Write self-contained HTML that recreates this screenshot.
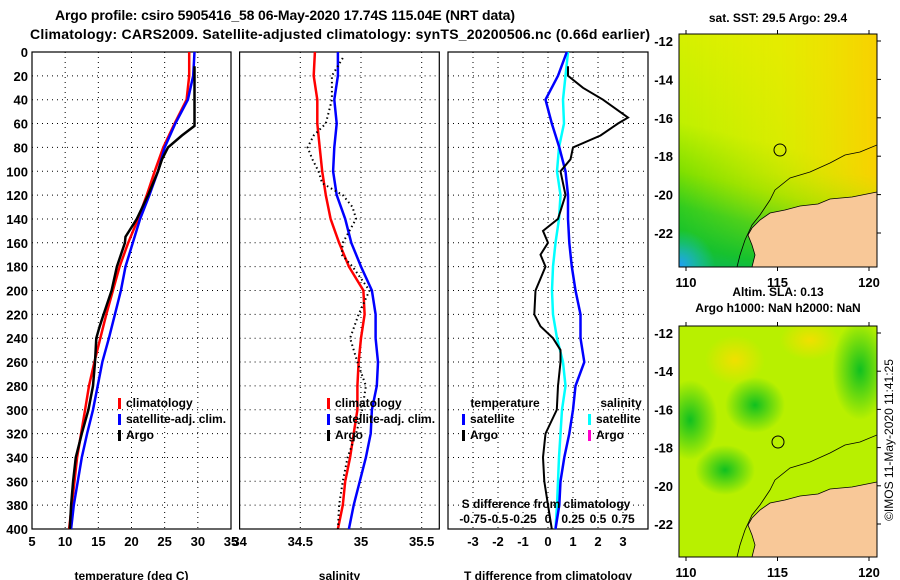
<!DOCTYPE html>
<html><head><meta charset="utf-8"><style>
html,body{margin:0;padding:0;background:#fff;}
svg{display:block;font-family:"Liberation Sans",sans-serif;font-weight:bold;}
</style></head><body>
<svg id="chart" width="900" height="580" viewBox="0 0 900 580">
<defs>
<clipPath id="clipTop"><rect x="679" y="34" width="198" height="233"/></clipPath>
<clipPath id="clipBot"><rect x="679" y="326" width="198" height="231"/></clipPath>
<linearGradient id="sstBase" x1="0.2" y1="0" x2="0" y2="1">
<stop offset="0" stop-color="#d8f000"/><stop offset="0.4" stop-color="#c0f000"/><stop offset="0.6" stop-color="#80e000"/><stop offset="0.75" stop-color="#30cc20"/><stop offset="0.9" stop-color="#10c030"/><stop offset="1" stop-color="#10b860"/>
</linearGradient>
<linearGradient id="sstRight" x1="0" y1="0" x2="1" y2="0">
<stop offset="0" stop-color="#f0f000" stop-opacity="0"/><stop offset="0.5" stop-color="#f0e800" stop-opacity="0.5"/><stop offset="1" stop-color="#f8d000" stop-opacity="1"/>
</linearGradient>
<linearGradient id="sstFade" x1="0" y1="0" x2="0" y2="1">
<stop offset="0" stop-color="#fff" stop-opacity="1"/><stop offset="0.6" stop-color="#fff" stop-opacity="1"/><stop offset="1" stop-color="#fff" stop-opacity="0"/>
</linearGradient>
<mask id="rightMask"><rect x="679" y="34" width="198" height="233" fill="url(#sstFade)"/></mask>
<radialGradient id="blob" cx="0.5" cy="0.5" r="0.5"><stop offset="0" stop-color="#10c020"/><stop offset="1" stop-color="#10c020" stop-opacity="0"/></radialGradient>
<radialGradient id="cyanBlob" cx="0.5" cy="0.5" r="0.5"><stop offset="0" stop-color="#20a0f0"/><stop offset="1" stop-color="#20c8d0" stop-opacity="0"/></radialGradient>
<radialGradient id="yblob" cx="0.5" cy="0.5" r="0.5"><stop offset="0" stop-color="#f0e000"/><stop offset="1" stop-color="#f0e000" stop-opacity="0"/></radialGradient>
</defs>
<g id="titles">
<text x="285" y="20" font-size="14" text-anchor="middle" textLength="460">Argo profile: csiro 5905416_58 06-May-2020 17.74S 115.04E (NRT data)</text>
<text x="340" y="39" font-size="14" text-anchor="middle" textLength="620">Climatology: CARS2009. Satellite-adjusted climatology: synTS_20200506.nc (0.66d earlier)</text>
</g>
<g id="panels"></g>
<g id="maps">
<text x="778" y="22" font-size="12" text-anchor="middle">sat. SST: 29.5 Argo: 29.4</text>
<g>
<g clip-path="url(#clipTop)">
<rect x="679" y="34" width="198" height="233" fill="url(#sstBase)"/>
<rect x="679" y="34" width="198" height="233" fill="url(#sstRight)" mask="url(#rightMask)"/>
<ellipse cx="680" cy="265" rx="35" ry="35" fill="url(#cyanBlob)"/>
<polygon points="877,192 852,197 830,199 818,204 800,206 785,210 770,213 760,220 752,228 748,235 752,245 755,255 752,267 877,267" fill="#f8c898" stroke="#000" stroke-width="0.8"/>
<polyline points="877,145 860,152 845,155 830,163 810,172 790,178 775,190 770,200 760,215 752,225 745,240 740,255 737,267" fill="none" stroke="#000" stroke-width="0.8"/>
</g>
<circle cx="780" cy="150" r="6" fill="none" stroke="#000" stroke-width="1"/>
<rect x="679" y="34" width="198" height="233" fill="none" stroke="#000"/>
</g>
<text x="778" y="296" font-size="12" text-anchor="middle">Altim. SLA: 0.13</text>
<text x="778" y="312" font-size="12" text-anchor="middle">Argo h1000: NaN h2000: NaN</text>
<g>
<g clip-path="url(#clipBot)">
<rect x="679" y="326" width="198" height="231" fill="#b8f000"/>
<ellipse cx="755" cy="405" rx="30" ry="28" fill="url(#blob)"/>
<ellipse cx="690" cy="420" rx="28" ry="40" fill="url(#blob)"/>
<ellipse cx="725" cy="470" rx="30" ry="25" fill="url(#blob)"/>
<ellipse cx="860" cy="370" rx="28" ry="50" fill="url(#blob)"/>
<ellipse cx="735" cy="360" rx="30" ry="25" fill="url(#yblob)"/>
<ellipse cx="810" cy="340" rx="30" ry="20" fill="url(#yblob)"/>
<polygon points="877,482 852,487 830,489 818,494 800,496 785,500 770,503 760,510 752,518 748,525 752,535 755,545 752,557 877,557" fill="#f8c898" stroke="#000" stroke-width="0.8"/>
<polyline points="877,435 860,442 845,445 830,453 810,462 790,468 775,480 770,490 760,505 752,515 745,530 740,545 737,557" fill="none" stroke="#000" stroke-width="0.8"/>
</g>
<circle cx="778" cy="442" r="6" fill="none" stroke="#000" stroke-width="1"/>
<rect x="679" y="326" width="198" height="231" fill="none" stroke="#000"/>
</g>
<text transform="translate(893,440) rotate(-90)" font-size="12" font-weight="normal" text-anchor="middle">©IMOS 11-May-2020 11:41:25</text>
</g>
</svg>
<script>
const depths=[0,20,40,60,80,100,120,140,160,180,200,220,240,260,280,300,320,340,360,380,400];
const tempClim=[28.7,28.7,28.3,26.5,24.8,23.5,22.3,21.0,19.5,18.2,17.2,16.2,15.3,14.4,13.6,13.0,12.4,11.8,11.4,11.0,10.6];
const tempSat=[29.5,29.3,28.5,26.6,25.0,24.0,22.7,21.3,20.2,19.1,18.4,17.5,16.6,15.6,14.9,14.2,13.3,12.5,11.9,11.3,10.9];
const argoDepths=[12,20,40,62,70,80,90,100,120,140,155,160,180,200,220,230,240,260,280,300,320,340,360,380,400];
const tempArgo=[29.5,29.5,29.5,29.5,27.6,25.5,24.6,24.0,22.5,20.8,19.1,19.0,17.8,17.0,15.8,15.2,14.7,14.5,14.2,13.5,12.5,11.6,11.2,10.9,10.7];
const salClim=[34.62,34.61,34.64,34.64,34.66,34.68,34.71,34.75,34.82,34.90,35.02,35.03,35.0,34.98,34.97,34.97,34.94,34.91,34.87,34.85,34.81];
const salSat=[34.81,34.81,34.78,34.80,34.78,34.77,34.80,34.87,34.92,35.0,35.09,35.12,35.12,35.14,35.13,35.09,35.08,35.04,34.99,34.94,34.90];
const salArgoDepths=[5,20,40,60,70,80,90,100,110,120,130,140,160,170,180,200,220,240,260,280,300,320,340,360,380,400];
const salArgo=[34.85,34.76,34.76,34.71,34.61,34.56,34.60,34.65,34.68,34.85,34.93,34.96,34.85,34.84,34.93,35.07,34.98,34.91,34.97,35.04,35.01,34.96,34.89,34.85,34.82,34.81];
const dTSat=[0.75,0.4,-0.1,0.15,0.45,0.7,0.8,0.8,0.85,0.95,1.1,1.3,1.3,1.45,1.1,1.0,0.85,0.65,0.5,0.45,0.3];
const dTArgoDepths=[12,20,30,40,55,60,70,80,90,100,110,120,140,150,160,170,180,190,200,220,230,240,250,260,280,300,320,340,360,380,400];
const dTArgo=[0.8,0.8,1.4,2.2,3.2,2.8,2.1,1.0,0.9,0.5,0.6,0.7,0.4,-0.2,0.0,-0.3,-0.1,-0.3,-0.5,-0.55,-0.3,0.2,0.5,0.5,0.4,0.35,-0.1,-0.2,-0.15,0.0,0.15];
const dSSat=[0.2,0.175,0.15,0.16,0.11,0.09,0.125,0.11,0.075,0.05,0.04,0.05,0.09,0.15,0.175,0.14,0.125,0.11,0.1,0.09,0.075];
const tempTicks=[5,10,15,20,25,30,35];
const salTicks=[34,34.5,35,35.5];
const dTTicks=[-3,-2,-1,0,1,2,3];
const dSTickLabels=["-0.75","-0.5","-0.25","0","0.25","0.5","0.75"];
const dSTicks=[-0.75,-0.5,-0.25,0,0.25,0.5,0.75];
const depthTicks=[0,20,40,60,80,100,120,140,160,180,200,220,240,260,280,300,320,340,360,380,400];

const NS="http://www.w3.org/2000/svg";
const root=document.getElementById('panels');
const Y0=52,Y1=529;
const yD=d=>Y0+d*(Y1-Y0)/400;
function el(tag,attrs,parent){const e=document.createElementNS(NS,tag);for(const k in attrs)e.setAttribute(k,attrs[k]);(parent||root).appendChild(e);return e;}
function txt(x,y,s,size,anchor,parent){const t=el('text',{x:x,y:y,'font-size':size,'text-anchor':anchor||'middle'},parent);t.textContent=s;return t;}

function panel(name,x0,x1,vmin,vmax,ticks,tickLabels,title,showDepth){
  const g=el('g',{});
  
  
  const xs=v=>x0+(v-vmin)*(x1-x0)/(vmax-vmin);
  ticks.forEach((t,i)=>{
    const x=xs(t);
    if(x>x0+1&&x<x1-1){const l=el('line',{x1:x,x2:x,y1:Y0,y2:Y1,stroke:'#000','stroke-dasharray':'1,4','stroke-width':1},g);
    
    }
    const t2=txt(x,Y1+17,tickLabels[i],13,'middle',g);
    
    
  });
  depthTicks.forEach(d=>{
    const y=yD(d);
    if(d>0&&d<400){const l=el('line',{x1:x0,x2:x1,y1:y,y2:y,stroke:'#000','stroke-dasharray':'1,4','stroke-width':1},g);
    
    }
    if(showDepth){const t=txt(x0-4,y+5,String(d),13,'end',g);
    
    }
  });
  el('rect',{x:x0,y:Y0,width:x1-x0,height:Y1-Y0,fill:'none',stroke:'#000','stroke-width':1.2},g);
  const tt=txt((x0+x1)/2,580,title,12,'middle',g);
  
  
  return {g,xs};
}
function line(p,vals,ds,color,name,dash,w){
  const pts=vals.map((v,i)=>p.xs(v).toFixed(1)+','+yD(ds[i]).toFixed(1)).join(' ');
  const l=el('polyline',{points:pts,fill:'none',stroke:color,'stroke-width':w||2.5},p.g);
  if(dash)l.setAttribute('stroke-dasharray',dash);
  
  
}
function legend(g,x,y,color,label){
  const r=el('rect',{x:x,y:y-9,width:3,height:11,fill:color},g);
  
  
  const t=txt(x+8,y,label,12,'start',g);
  
  
}

const p1=panel('temperature-panel',32,231,5,35,tempTicks,tempTicks.map(String),'temperature (deg C)',true);
line(p1,tempClim,depths,'#f00','temp-climatology-line');
line(p1,tempSat,depths,'#00f','temp-satellite-line');
line(p1,tempArgo,argoDepths,'#000','temp-argo-line');
legend(p1.g,118,407,'#f00','climatology');
legend(p1.g,118,423,'#00f','satellite-adj. clim.');
legend(p1.g,118,439,'#000','Argo');

const p2=panel('salinity-panel',239.6,439.3,34,35.645,salTicks,salTicks.map(String),'salinity',false);
line(p2,salClim,depths,'#f00','sal-climatology-line');
line(p2,salSat,depths,'#00f','sal-satellite-line');
line(p2,salArgo,salArgoDepths,'#000','sal-argo-line','1.5,3',2);
legend(p2.g,327,407,'#f00','climatology');
legend(p2.g,327,423,'#00f','satellite-adj. clim.');
legend(p2.g,327,439,'#000','Argo');

const p3=panel('difference-panel',448,648,-4,4,dTTicks,dTTicks.map(String),'T difference from climatology',false);
const ps={g:p3.g,xs:v=>p3.xs(v*4)};
line(ps,dSSat,depths,'#0ff','salinity-diff-satellite-line');
line(p3,dTSat,depths,'#00f','temp-diff-satellite-line');
line(p3,dTArgo,dTArgoDepths,'#000','temp-diff-argo-line',null,2);
const lt=txt(505,407,'temperature',12,'middle',p3.g);


const ls=txt(621,407,'salinity',12,'middle',p3.g);


legend(p3.g,462,423,'#00f','satellite');
legend(p3.g,588,423,'#0ff','satellite');
legend(p3.g,462,439,'#000','Argo');
legend(p3.g,588,439,'#f0c','Argo');
const st=txt(546,508,'S difference from climatology',12,'middle',p3.g);


dSTicks.forEach((v,i)=>{
  const t=txt(ps.xs(v),523,dSTickLabels[i],12,'middle',p3.g);
  
  
});

// map axes
const mapG=document.getElementById('maps');
const lonTicks=[110,115,120];
const latTicks=[-12,-14,-16,-18,-20,-22];
[[34,267,41,233,287],[326,557,333,524,577]].forEach(([top,bot,y12,y22,ly],mi)=>{
  lonTicks.forEach(lon=>{
    const x=686+(lon-110)*(869-686)/10;
    const t=txt(x,ly,String(lon),13,'middle',mapG);
    
    
    el('line',{x1:x,x2:x,y1:bot,y2:bot+4,stroke:'#000'},mapG);
    el('line',{x1:x,x2:x,y1:top,y2:top-4,stroke:'#000'},mapG);
  });
  latTicks.forEach(lat=>{
    const y=y12+(lat+12)*(y22-y12)/-10;
    const t=txt(673,y+5,String(lat),13,'end',mapG);
    
    
    el('line',{x1:877,x2:881,y1:y,y2:y,stroke:'#000'},mapG);
  });
});
</script>
</body></html>
